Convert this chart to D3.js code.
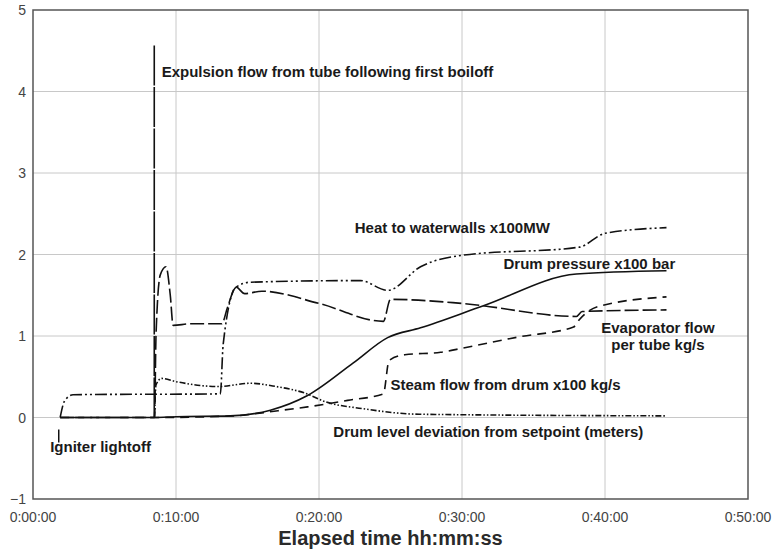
<!DOCTYPE html>
<html>
<head>
<meta charset="utf-8">
<script src="https://cdn.jsdelivr.net/npm/d3@7"></script>
<style>
  body { margin: 0; background: #fff; }
  text { font-family: "Liberation Sans", Arial, sans-serif; }
  .grid line { stroke: #c8c8c8; stroke-width: 1; }
  .tick-label { fill: #444; font-size: 14px; }
  .series { fill: none; stroke: #111; stroke-width: 1.6; }
  .note { fill: #1a1a1a; font-size: 15px; font-weight: bold; }
</style>
</head>
<body>
<div id="chart"></div>
<script>
// time in minutes, values in chart units
var pressureT = [1.9, 8.5, 10, 13.8, 16.6, 19.2, 22.4, 24.8, 27.1, 31.5, 38, 44.3];
var pressureV = [0, 0, 0.01, 0.02, 0.09, 0.27, 0.67, 0.98, 1.1, 1.37, 1.76, 1.8];

var heatT = [1.9, 2.2, 2.8, 13.1, 13.3, 14.2, 15.2, 22.9, 24.8, 27.1, 30, 38.2, 40, 44.3];
var heatV = [0, 0.2, 0.28, 0.29, 0.9, 1.6, 1.66, 1.68, 1.56, 1.85, 1.99, 2.09, 2.26, 2.33];

var evapT = [1.9, 8.5, 8.6, 8.9, 9.3, 9.6, 9.8, 11, 13.2, 13.6, 14.2, 14.8, 16, 20, 24.5, 25, 30, 38, 38.4, 44.3];
var evapV = [0, 0, 1.0, 1.75, 1.85, 1.5, 1.13, 1.15, 1.15, 1.35, 1.6, 1.52, 1.55, 1.4, 1.18, 1.45, 1.4, 1.24, 1.3, 1.32];

var expulsionT = [8.48, 8.48];
var expulsionV = [0, 4.58];

var steamT = [1.9, 8.5, 14, 17, 19.2, 22, 24.5, 24.9, 26, 28.5, 30, 34, 37.8, 38.2, 39.5, 44.3];
var steamV = [0, 0, 0.02, 0.08, 0.13, 0.21, 0.29, 0.7, 0.77, 0.8, 0.85, 0.99, 1.11, 1.2, 1.36, 1.48];

var levelT = [8.5, 8.6, 9, 10, 13, 15.2, 17, 19, 20.5, 23, 27, 44.3];
var levelV = [0, 0.4, 0.48, 0.44, 0.38, 0.42, 0.38, 0.3, 0.19, 0.11, 0.04, 0.02];

var xTicks = [0, 10, 20, 30, 40, 50];
var yTicks = [-1, 0, 1, 2, 3, 4, 5];

var igniterT = 1.8;

var width = 775, height = 554;
var margin = {top: 10, right: 27, bottom: 55, left: 33};

var svg = d3.select("#chart").append("svg")
    .attr("width", width)
    .attr("height", height);

var x = d3.scaleLinear().domain([0, 50]).range([margin.left, width - margin.right]);
var y = d3.scaleLinear().domain([-1, 5]).range([height - margin.bottom, margin.top]);

// gridlines
var grid = svg.append("g").attr("class", "grid");
grid.selectAll(".gx").data(xTicks.slice(1, -1)).enter().append("line")
    .attr("x1", function(d) { return x(d); })
    .attr("x2", function(d) { return x(d); })
    .attr("y1", y(5)).attr("y2", y(-1));
grid.selectAll(".gy").data(yTicks.slice(1, -1)).enter().append("line")
    .attr("x1", x(0)).attr("x2", x(50))
    .attr("y1", function(d) { return y(d); })
    .attr("y2", function(d) { return y(d); });

// frame
svg.append("rect")
    .attr("x", x(0)).attr("y", y(5))
    .attr("width", x(50) - x(0)).attr("height", y(-1) - y(5))
    .attr("fill", "none").attr("stroke", "#555").attr("stroke-width", 1.5);

// tick labels
function fmtTime(m) {
    return "0:" + (m < 10 ? "0" : "") + m + ":00";
}
svg.selectAll(".xl").data(xTicks).enter().append("text")
    .attr("class", "tick-label")
    .attr("x", function(d) { return x(d); })
    .attr("y", y(-1) + 23)
    .attr("text-anchor", "middle")
    .text(fmtTime);

svg.selectAll(".yl").data(yTicks).enter().append("text")
    .attr("class", "tick-label")
    .attr("x", x(0) - 7)
    .attr("y", function(d) { return y(d) + 5; })
    .attr("text-anchor", "end")
    .text(function(d) { return d < 0 ? "\u2212" + Math.abs(d) : d; });

svg.append("text")
    .attr("x", (x(0) + x(50)) / 2)
    .attr("y", height - 9)
    .attr("text-anchor", "middle")
    .attr("font-size", "20px")
    .attr("font-weight", "bold")
    .attr("fill", "#2a2a2a")
    .text("Elapsed time hh:mm:ss");

// series
var line = d3.line()
    .curve(d3.curveMonotoneX)
    .x(function(d) { return x(d[0]); })
    .y(function(d) { return y(d[1]); });

function addSeries(ts, vs, dash, w, lineGen) {
    svg.append("path")
        .attr("class", "series")
        .attr("d", (lineGen || line)(d3.zip(ts, vs)))
        .attr("stroke-dasharray", dash)
        .attr("stroke-width", w || 1.6);
}

addSeries(levelT, levelV, "6,2,1.5,2,1.5,2", 1.5);
addSeries(steamT, steamV, "9,6");
addSeries(evapT, evapV, "14,4");
addSeries(heatT, heatV, "12,3,2,3,2,3");
addSeries(pressureT, pressureV, null, 1.7);

// vertical expulsion spike needs a straight line (equal x)
var straight = d3.line()
    .x(function(d) { return x(d[0]); })
    .y(function(d) { return y(d[1]); });
addSeries(expulsionT, expulsionV, "40,1.5", 2, straight);

// igniter marker
svg.append("line")
    .attr("x1", x(igniterT)).attr("x2", x(igniterT))
    .attr("y1", y(0) + 12).attr("y2", y(0) + 25)
    .attr("stroke", "#111").attr("stroke-width", 1.5);

// annotations
var notes = [
    {t: 9.0, v: 4.18, text: "Expulsion flow from tube following first boiloff", anchor: "start"},
    {t: 22.5, v: 2.26, text: "Heat to waterwalls x100MW", anchor: "start"},
    {t: 32.9, v: 1.82, text: "Drum pressure x100 bar", anchor: "start"},
    {t: 43.7, v: 1.04, text: "Evaporator flow", anchor: "middle"},
    {t: 43.7, v: 0.83, text: "per tube kg/s", anchor: "middle"},
    {t: 25.0, v: 0.34, text: "Steam flow from drum x100 kg/s", anchor: "start"},
    {t: 21.0, v: -0.24, text: "Drum level deviation from setpoint (meters)", anchor: "start"},
    {t: 1.2, v: -0.42, text: "Igniter lightoff", anchor: "start"}
];
svg.selectAll(".note").data(notes).enter().append("text")
    .attr("class", "note")
    .attr("x", function(d) { return x(d.t); })
    .attr("y", function(d) { return y(d.v); })
    .attr("text-anchor", function(d) { return d.anchor; })
    .text(function(d) { return d.text; });
</script>
</body>
</html>
